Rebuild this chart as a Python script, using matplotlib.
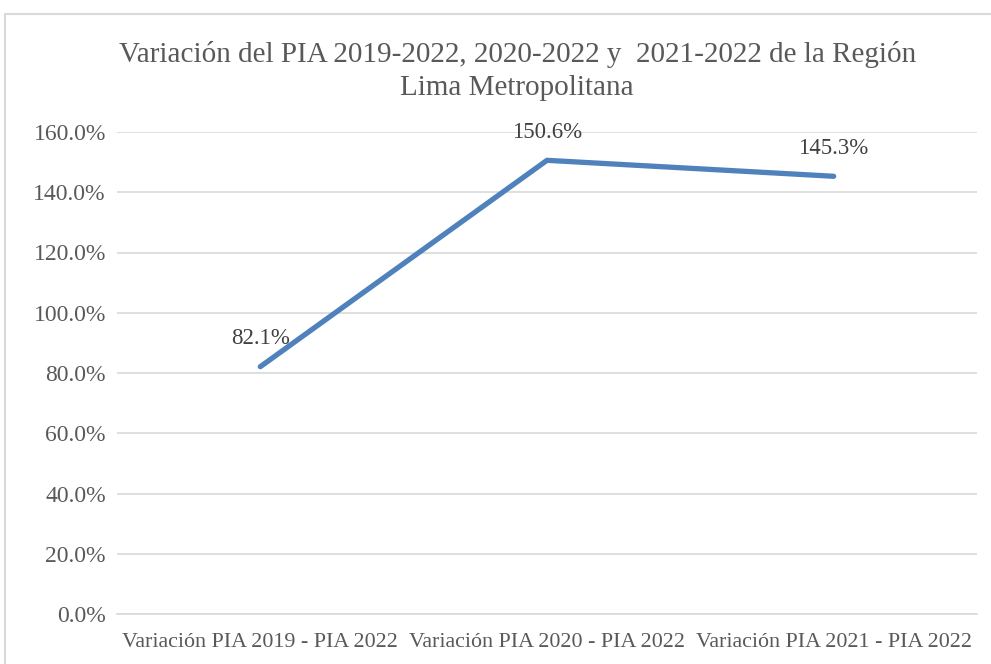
import matplotlib
matplotlib.use("Agg")
import matplotlib.pyplot as plt
from matplotlib.patches import Rectangle
from matplotlib.ticker import FuncFormatter, MultipleLocator

categories = ["Variación PIA 2019 - PIA 2022", "Variación PIA 2020 - PIA 2022", "Variación PIA 2021 - PIA 2022"]
values = [82.1, 150.6, 145.3]
labels = ["82.1%", "150.6%", "145.3%"]
title = "Variación del PIA 2019-2022, 2020-2022 y  2021-2022 de la Región\nLima Metropolitana"

plt.rcParams['font.family'] = ['Liberation Serif', 'DejaVu Serif']
txt = '#595959'
lab_c = '#404040'

fig = plt.figure(figsize=(9.91, 6.64), dpi=100)
fig.patches.append(Rectangle((5/991, -0.1), 1.1, 1 - 14/664 + 0.1, transform=fig.transFigure,
                             fill=False, edgecolor='#D9D9D9', linewidth=1.5))
ax = fig.add_axes([117/991, 1 - 614/664, (977 - 117)/991, (614 - 132)/664])
x = list(range(len(categories)))
ax.plot(x, values, color='#4F81BD', linewidth=3.8, solid_capstyle='round', solid_joinstyle='round', zorder=3)
ax.set_xlim(-0.5, 2.5)
ax.set_ylim(0, 160)
ax.yaxis.set_major_locator(MultipleLocator(20))
ax.yaxis.set_major_formatter(FuncFormatter(lambda v, p: f"{v:.1f}%"))
ax.set_xticks(x)
ax.set_xticklabels(categories)
ax.grid(axis='y', color='#D9D9D9', linewidth=1.2)
ax.set_axisbelow(True)
for s in ['top', 'right', 'left']:
    ax.spines[s].set_visible(False)
ax.spines['bottom'].set_color('#D9D9D9')
ax.spines['bottom'].set_linewidth(1.2)
ax.tick_params(axis='y', length=0, labelsize=17, colors=txt, pad=8)
ax.tick_params(axis='x', length=0, labelsize=15.8, colors=txt, pad=14)
offsets = [(0, 20), (0, 20), (0, 20)]
for xi, v, lab, off in zip(x, values, labels, offsets):
    ax.annotate(lab, (xi, v), xytext=off, textcoords='offset points', ha='center', va='center',
                fontsize=16.5, color=lab_c)
fig.text(0.522, 1 - 71/664, title, ha='center', va='center', fontsize=21, color=txt, linespacing=1.35)
fig.savefig("out.png", dpi=100)
